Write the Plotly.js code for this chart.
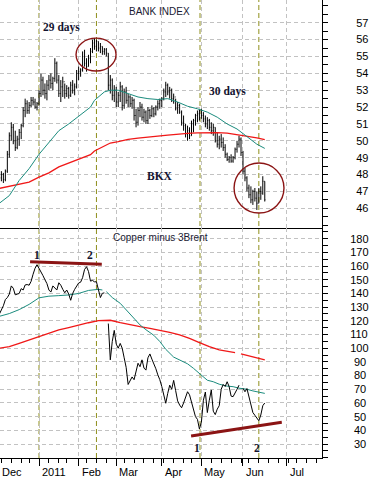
<!DOCTYPE html>
<html><head><meta charset="utf-8">
<script src="https://cdn.plot.ly/plotly-3.0.1.min.js"></script>
<style>html,body{margin:0;padding:0;background:#fff}#chart{width:371px;height:479px}</style>
</head><body><div id="chart"></div><script>
// x axis = trading-day index, 0 = Jan 3 2011
const monthTicks = [-22, 0, 20, 39, 62, 82, 103, 125];
const monthLabels = ["Dec", "2011", "Feb", "Mar", "Apr", "May", "Jun", "Jul"];
const weekTicks = [-19,-14,-9,-5,5,10,14,24,29,34,43,48,53,58,63,68,73,77,87,92,97,102,106,111,116,121,126,130,135,140];
const eventDays = [0, 29, 81.3, 111];

const bkxTicks = [46,47,48,49,50,51,52,53,54,55,56,57];
const spreadTicksHi = [100,110,120,130,140,150,160,170,180];
const spreadTicksLo = [30,40,50,60,70,80,90];

// BANK INDEX (BKX) daily bars, first bar at day -19
const bkxStart = -19;
const bkxHigh = [
 48.2,48.1,48.3,49.4,50.5,51.1,51.0,50.6,50.3,50.7,
 51.0,52.0,52.5,52.4,52.3,52.6,52.6,52.5,52.3,53.0,
 54.0,53.8,53.4,53.6,53.9,54.0,53.8,54.9,54.7,53.9,
 53.6,53.8,53.4,53.3,53.2,53.5,53.6,53.4,54.2,54.4,
 54.3,55.3,55.4,54.9,55.1,55.5,56.0,56.1,56.0,55.9,
 55.8,55.6,55.5,55.5,55.2,53.9,53.7,53.3,53.2,52.9,
 53.5,53.3,53.1,53.2,52.8,52.7,52.6,52.5,51.9,52.0,
 52.3,52.2,51.9,51.8,52.0,51.9,52.1,52.0,52.1,52.4,
 52.5,52.6,53.1,53.5,53.4,53.2,53.1,52.8,52.5,52.3,
 52.2,51.8,51.5,51.0,50.9,50.8,51.2,51.3,51.6,51.8,
 51.9,51.9,51.7,51.5,51.4,51.3,51.1,51.0,50.8,50.5,
 50.3,50.4,50.2,49.8,49.3,49.1,49.2,49.1,49.6,50.0,
 50.3,50.2,49.4,48.4,47.9,47.4,47.3,47.1,47.2,47.0,
 47.2,47.3,47.9,47.6];
const bkxLow = [
 47.6,47.5,47.6,48.1,49.0,50.0,49.8,49.4,49.5,49.7,
 50.1,50.8,51.4,51.6,51.6,52.0,52.1,51.9,51.8,52.1,
 52.6,52.7,52.5,52.4,53.0,53.1,53.0,53.5,53.4,52.6,
 52.3,52.6,52.5,52.6,52.5,52.6,52.8,52.7,53.1,53.6,
 53.8,54.1,54.4,54.1,54.4,54.6,55.2,55.4,55.3,55.3,
 55.2,55.1,55.1,55.0,53.0,52.8,52.4,52.3,52.0,52.0,
 52.3,51.8,51.9,52.2,52.0,52.0,51.9,51.2,50.8,50.9,
 51.4,51.2,51.1,51.0,51.0,51.3,51.4,51.4,51.5,51.8,
 51.9,52.0,52.4,52.6,52.7,52.5,52.3,52.2,51.8,51.6,
 51.6,50.9,50.6,50.2,50.0,50.1,50.3,50.5,50.9,51.1,
 51.2,51.3,51.1,50.8,50.7,50.6,50.4,50.3,49.9,49.6,
 49.5,49.6,49.4,49.0,48.8,48.7,48.7,48.7,48.9,49.3,
 49.6,49.1,48.0,47.6,47.0,46.6,46.3,46.2,46.4,45.9,
 46.3,46.5,46.8,46.4];
const bkxOpen = [
 47.8,48.0,47.7,48.2,49.2,50.3,50.8,50.0,49.6,50.1,
 50.5,50.9,51.8,52.2,51.8,52.1,52.4,52.3,52.0,52.2,
 52.8,53.6,53.0,52.8,53.3,53.6,53.4,53.7,54.6,53.6,
 52.8,53.2,53.5,52.8,53.1,52.7,53.3,53.0,53.2,54.0,
 54.1,54.2,55.0,54.6,54.4,54.9,55.3,55.8,55.6,55.9,
 55.5,55.6,55.3,55.4,55.2,53.3,53.6,52.7,53.0,52.3,
 52.7,53.2,52.1,52.9,52.4,52.6,52.2,52.4,51.5,51.1,
 51.8,52.0,51.4,51.7,51.2,51.8,51.5,51.9,51.6,52.0,
 52.2,52.4,52.5,52.9,53.3,52.9,53.0,52.5,52.6,51.9,
 52.1,51.7,51.1,50.9,50.4,50.6,50.3,51.0,51.2,51.5,
 51.6,51.8,51.5,51.3,51.0,51.2,50.8,50.6,50.8,50.0,
 49.8,50.1,49.9,49.6,49.2,48.9,49.0,48.8,49.0,49.5,
 49.8,50.1,49.3,48.2,47.8,47.2,46.8,46.5,47.0,46.6,
 46.3,47.0,46.9,47.6];
const bkxClose = [
 48.0,47.7,48.2,49.2,50.3,50.8,50.0,49.6,50.1,50.5,
 50.9,51.8,52.2,51.8,52.1,52.4,52.3,52.0,52.2,52.8,
 53.6,53.0,52.8,53.3,53.6,53.4,53.7,54.6,53.6,52.8,
 53.2,53.5,52.8,53.1,52.7,53.3,53.0,53.2,54.0,54.1,
 54.2,55.0,54.6,54.4,54.9,55.3,55.8,55.6,55.9,55.5,
 55.6,55.3,55.4,55.2,53.3,53.6,52.7,53.0,52.3,52.7,
 53.2,52.1,52.9,52.4,52.6,52.2,52.4,51.5,51.1,51.8,
 52.0,51.4,51.7,51.2,51.8,51.5,51.9,51.6,52.0,52.2,
 52.4,52.5,52.9,53.3,52.9,53.0,52.5,52.6,51.9,52.1,
 51.7,51.1,50.9,50.4,50.6,50.3,51.0,51.2,51.5,51.6,
 51.8,51.5,51.3,51.0,51.2,50.8,50.6,50.8,50.0,49.8,
 50.1,49.9,49.6,49.2,48.9,49.0,48.8,49.0,49.5,49.8,
 50.1,49.3,48.2,47.8,47.2,46.8,46.5,47.0,46.6,46.3,
 47.0,46.9,47.6,46.5];

const bkxMaDays = [-20,-15,-10,-5,0,5,10,15,20,23,26,28,33,36,40,45,50,55,60,65,70,75,80,85,90,95,100,105,110,114];
const bkxMa50 = [46.3,46.75,47.65,48.35,49.2,49.9,50.6,51.0,51.45,51.75,52.0,52.4,52.9,53.0,53.0,52.8,52.6,52.5,52.45,52.5,52.3,52.05,51.9,51.7,51.4,51.0,50.7,50.25,49.8,49.55];
const bkxMa200 = [47.18,47.3,47.43,47.55,47.85,48.1,48.45,48.68,48.88,49.03,49.18,49.4,49.72,49.87,49.95,50.08,50.16,50.24,50.28,50.34,50.4,50.44,50.47,50.48,50.48,50.45,50.36,50.28,50.17,50.07];

// Copper minus 3Brent, first value at day -20
const spreadStart = -20;
const spread = [
 125,128,131,135.5,137,139.5,145.5,143.8,139,139.5,
 140,143.5,142.5,146.2,146.5,146,148.8,154,158.4,161,
 158.5,156.5,153,150,147.2,142.5,141,145.5,144,142.5,
 147.8,146,143,140.5,142.5,139.5,135,140,143,145,
 147.6,148.2,151.5,157.5,159.5,156,149,149.5,148.5,148.5,
 143.5,137,140.1,140.4,null,118,91.5,105,113,103,
 100,103.5,100,93,86,73.5,76,79,77,84,
 89,86.5,91.5,85.5,84,93,95.8,92,89,85,
 80.5,77,72,66,59.8,67,73,70,76.5,69,
 61.5,58.5,56.5,60,65,68.2,66,61,55,50,
 48,41,46,62,68,53,62,69.5,54,51.5,
 55.5,58,70,73.5,72,75.5,72,65,64.6,67,
 70,73,null,70.7,68.2,70.5,64,58,53,51,
 48.5,47,51.2,58,60];

const spreadMa50Days = [-20,-15,-10,-5,0,5,10,15,20,25,30,32,33,34,37,41,44,47,51,54,58,61,64,68,71,75,78,81,85,88,91,95,98,101,105,108,112,114];
const spreadMa50 = [123.3,125.3,128.2,132,136.8,138,138.4,138.9,140,142.2,143,142.5,null,141.3,137,132.8,128.2,123.5,117,113.5,109.4,104.9,99.2,93.5,91.5,88.6,85.3,81.5,76.6,75.5,73.7,72.3,71.9,70.8,70,68.8,67.4,67];
const spreadMa200Days = [-20,-15,-10,-5,0,5,10,15,20,25,30,34,36,41,46,51,56,61,66,71,76,81,86,91,96,99,100,102,108,113,114];
const spreadMa200 = [100,101.1,103.6,106,108.9,111.3,113.3,115,117,118.6,120.1,120.6,120.4,118.6,117,115.7,114.5,113.3,111.6,109.7,107.2,104.1,101.1,98.7,97.3,96.8,null,95.9,93.8,91.6,91.4];

const bkxDays = bkxHigh.map((_, k) => bkxStart + k);
const spreadDays = spread.map((_, k) => spreadStart + k);

const TEAL = '#1b8c7e', RED = '#f01818', OLIVE = '#8f8f1c', MAROON = '#8b1414', GRID = '#c2c2c2';
const SANS = 'Liberation Sans, Arial, sans-serif';
const SERIF = 'Liberation Serif, Times New Roman, serif';
const XR = [-19.7, 142.9];
const split = 230 / 458;
const toPaperX = d => (d - XR[0]) / (XR[1] - XR[0]);

const traces = [
  {type:'scatter', mode:'lines', x:bkxMaDays, y:bkxMa200, xaxis:'x', yaxis:'y', line:{color:RED, width:1.3}, hoverinfo:'skip'},
  {type:'scatter', mode:'lines', x:bkxMaDays, y:bkxMa50, xaxis:'x', yaxis:'y', line:{color:TEAL, width:1}, hoverinfo:'skip'},
  {type:'ohlc', x:bkxDays, open:bkxOpen, high:bkxHigh, low:bkxLow, close:bkxClose, xaxis:'x', yaxis:'y',
   increasing:{line:{color:'#000', width:1}}, decreasing:{line:{color:'#000', width:1}}, tickwidth:0.3, hoverinfo:'skip'},
  {type:'scatter', mode:'lines', x:spreadMa200Days, y:spreadMa200, xaxis:'x2', yaxis:'y2', line:{color:RED, width:1.3}, hoverinfo:'skip'},
  {type:'scatter', mode:'lines', x:spreadMa50Days, y:spreadMa50, xaxis:'x2', yaxis:'y2', line:{color:TEAL, width:1}, hoverinfo:'skip'},
  {type:'scatter', mode:'lines', x:spreadDays, y:spread, xaxis:'x2', yaxis:'y2', line:{color:'#000', width:1}, hoverinfo:'skip'}
];

const gridX = {range:XR, tickmode:'array', tickvals:monthTicks, showgrid:true, gridcolor:GRID, griddash:'4px,3px', gridwidth:1, zeroline:false, fixedrange:true};
const layout = {
  width:371, height:479, margin:{l:0, r:49, t:0, b:21},
  paper_bgcolor:'#fff', plot_bgcolor:'#fff', showlegend:false,
  font:{family:SANS, size:11, color:'#000'},
  xaxis: Object.assign({}, gridX, {anchor:'y', showticklabels:false, ticks:'', showline:true, linecolor:'#000', linewidth:1, rangeslider:{visible:false}}),
  xaxis2: Object.assign({}, gridX, {anchor:'y2', showticklabels:false, ticks:'outside', ticklen:7, tickcolor:'#000', showline:true, linecolor:'#000', linewidth:1,
     minor:{tickmode:'array', tickvals:weekTicks, ticks:'outside', ticklen:4, tickcolor:'#000', showgrid:false}}),
  yaxis: {domain:[split, 1], range:[44.83, 58.35], side:'right', anchor:'x', tickmode:'array', tickvals:bkxTicks,
     showgrid:true, gridcolor:GRID, griddash:'4px,3px', zeroline:false, showline:true, linecolor:'#000', linewidth:1,
     ticks:'outside', ticklen:5, tickcolor:'#000', ticklabelstandoff:26, tickfont:{family:SANS, size:11, color:'#000'},
     minor:{dtick:0.5, tick0:0, ticks:'outside', ticklen:5, tickcolor:'#000', showgrid:false}},
  yaxis2: {domain:[0, split], range:[19.8, 187.8], side:'right', anchor:'x2', tickmode:'array', tickvals:spreadTicksHi,
     showgrid:true, gridcolor:GRID, griddash:'4px,3px', zeroline:false, showline:true, linecolor:'#000', linewidth:1,
     ticks:'outside', ticklen:5, tickcolor:'#000', ticklabelstandoff:20, tickfont:{family:SANS, size:11, color:'#000'},
     minor:{dtick:5, tick0:0, ticks:'outside', ticklen:5, tickcolor:'#000', showgrid:false}},
  yaxis3: {overlaying:'y2', range:[19.8, 187.8], side:'right', anchor:'x2', tickmode:'array', tickvals:spreadTicksLo,
     showgrid:true, gridcolor:GRID, griddash:'4px,3px', zeroline:false, showline:false, ticks:'', ticklabelstandoff:31,
     tickfont:{family:SANS, size:11, color:'#000'}},
  shapes: [],
  annotations: []
};
// yaxis3 needs a trace to show; attach an invisible one
traces.push({type:'scatter', mode:'lines', x:[XR[0]], y:[50], xaxis:'x2', yaxis:'y3', line:{width:0}, hoverinfo:'skip', showlegend:false});

eventDays.forEach(d => layout.shapes.push({type:'line', xref:'x', yref:'paper', x0:d, x1:d, y0:0, y1:1, layer:'below',
  line:{color:OLIVE, width:1, dash:'5px,3px'}}));
layout.shapes.push({type:'circle', xref:'x', yref:'y', x0:18.7, x1:38.9, y0:54.14, y1:56.09, line:{color:MAROON, width:1.4}});
layout.shapes.push({type:'circle', xref:'x', yref:'y', x0:98.5, x1:123.7, y0:45.72, y1:48.68, line:{color:MAROON, width:1.4}});
layout.shapes.push({type:'line', xref:'x2', yref:'y2', x0:-4.5, x1:31.7, y0:163.2, y1:161.4, line:{color:MAROON, width:3}});
layout.shapes.push({type:'line', xref:'x2', yref:'y2', x0:76.8, x1:122.6, y0:35.9, y1:45.9, line:{color:MAROON, width:3}});

const ann = (text, xref, yref, x, y, font, extra) => layout.annotations.push(Object.assign({text, xref, yref, x, y, showarrow:false, font, xanchor:'center', yanchor:'middle'}, extra||{}));
const sansFont = {family:SANS, size:10, color:'#1a1a33'};
const serifFont = {family:SERIF, size:11.5, color:'#141430'};
ann('BANK INDEX', 'x', 'y', 60.6, 57.65, sansFont);
ann('<b>29 days</b>', 'x', 'y', 11.4, 56.69, serifFont);
ann('<b>30 days</b>', 'x', 'y', 95, 52.95, serifFont);
ann('<b>BKX</b>', 'x', 'y', 61.1, 47.91, serifFont);
ann('Copper minus 3Brent', 'x2', 'y2', 61.4, 180.7, sansFont);
ann('<b>1</b>', 'x2', 'y2', -1.2, 168.1, serifFont);
ann('<b>2</b>', 'x2', 'y2', 25.8, 168.1, serifFont);
ann('<b>1</b>', 'x2', 'y2', 80, 27.3, serifFont);
ann('<b>2</b>', 'x2', 'y2', 110.3, 27.3, serifFont);
monthTicks.forEach((d, k) => {
  const px = toPaperX(d);
  ann(monthLabels[k], 'paper', 'paper', Math.max(px, 0), -14.5/458, {family:SANS, size:11, color:'#000'}, {xanchor:'left', xshift: px > 0 ? 1 : 0});
});

Plotly.newPlot('chart', traces, layout, {staticPlot:true, displayModeBar:false});
</script></body></html>
